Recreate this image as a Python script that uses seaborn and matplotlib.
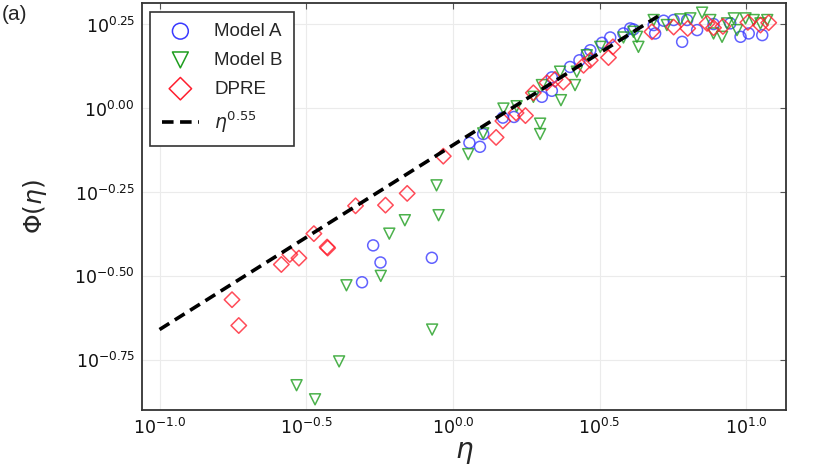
import numpy as np
import pandas as pd
import matplotlib
matplotlib.use("Agg")
import matplotlib.pyplot as plt
import matplotlib.ticker as mticker
import seaborn as sns

# values, as log10 exponents
a_logx = [-0.272, -0.247, -0.310, -0.072, 0.056, 0.092, 0.103, 0.170, 0.208, 0.303,
          0.337, 0.337, 0.399, 0.431, 0.456, 0.468, 0.508, 0.536, 0.581, 0.604,
          0.615, 0.684, 0.689, 0.718, 0.752, 0.781, 0.798, 0.832, 0.888, 0.945,
          0.980, 1.008, 1.054]
a_logy = [-0.409, -0.460, -0.519, -0.446, -0.103, -0.115, -0.077, -0.028, -0.026, 0.034,
          0.052, 0.092, 0.123, 0.143, 0.161, 0.173, 0.195, 0.211, 0.223, 0.238,
          0.235, 0.248, 0.223, 0.261, 0.263, 0.198, 0.263, 0.233, 0.251, 0.253,
          0.213, 0.223, 0.218]

b_logx = [-0.056, -0.049, -0.164, -0.217, -0.246, -0.363, -0.071, -0.388, -0.533, -0.470,
          0.052, 0.103, 0.172, 0.217, 0.297, 0.297, 0.274, 0.303, 0.365, 0.368,
          0.416, 0.422, 0.456, 0.502, 0.581, 0.615, 0.632, 0.627, 0.684, 0.729,
          0.775, 0.809, 0.849, 0.877, 0.888, 0.917, 0.934, 0.957, 0.968, 0.997,
          1.025, 1.048, 1.071]
b_logy = [-0.230, -0.319, -0.334, -0.374, -0.500, -0.528, -0.660, -0.755, -0.826, -0.868,
          -0.137, -0.075, -0.001, 0.006, -0.046, -0.077, 0.034, 0.069, 0.109, 0.024,
          0.069, 0.109, 0.158, 0.183, 0.211, 0.228, 0.183, 0.213, 0.263, 0.248,
          0.265, 0.268, 0.285, 0.263, 0.223, 0.213, 0.253, 0.268, 0.233, 0.268,
          0.263, 0.253, 0.263]

d_logx = [-0.753, -0.730, -0.585, -0.556, -0.525, -0.474, -0.429, -0.427, -0.332, -0.230,
          -0.156, -0.033, 0.147, 0.170, 0.215, 0.247, 0.274, 0.320, 0.348, 0.376,
          0.445, 0.468, 0.530, 0.545, 0.678, 0.752, 0.800, 0.866, 0.888, 0.920,
          1.005, 1.048, 1.076]
d_logy = [-0.571, -0.648, -0.466, -0.436, -0.447, -0.374, -0.414, -0.417, -0.291, -0.289,
          -0.254, -0.143, -0.087, -0.038, -0.014, -0.022, 0.046, 0.076, 0.086, 0.078,
          0.128, 0.143, 0.151, 0.183, 0.228, 0.242, 0.238, 0.253, 0.240, 0.244,
          0.256, 0.248, 0.255]

fit_eta = [0.1, 5.0]
fit_coef = 10 ** -0.11
fit_exp = 0.55

x_ticks = [-1.0, -0.5, 0.0, 0.5, 1.0]
y_ticks = [-0.75, -0.50, -0.25, 0.00, 0.25]

sns.set_theme(style="whitegrid")
plt.rcParams['font.family'] = ['Liberation Sans', 'DejaVu Sans']
plt.rcParams['mathtext.fontset'] = 'dejavusans'

fig = plt.figure(figsize=(8.3, 4.67), dpi=100)
ax = fig.add_axes([0.171, 0.122, 0.776, 0.871])

series = [
    ("Model A", a_logx, a_logy, "o", "#3a3aff"),
    ("Model B", b_logx, b_logy, "v", "#1f9e1f"),
    ("DPRE", d_logx, d_logy, "D", "#ff1f2f"),
]
for name, lx, ly, mk, col in series:
    df = pd.DataFrame({"eta": 10 ** np.array(lx), "phi": 10 ** np.array(ly)})
    sns.scatterplot(data=df, x="eta", y="phi", ax=ax, marker=mk, s=62,
                    facecolor="none", edgecolor=col, linewidth=1.1,
                    alpha=0.8, label=name)

fit_x = np.array(fit_eta)
ax.plot(fit_x, fit_coef * fit_x ** fit_exp, color="black", lw=2.6,
        ls=(0, (3.2, 1.8)), label=r"$\eta^{0.55}$")

ax.set_xscale("log")
ax.set_yscale("log")
ax.set_xlim(10 ** -1.06, 10 ** 1.135)
ax.set_ylim(10 ** -0.90, 10 ** 0.313)

ax.xaxis.set_major_locator(mticker.FixedLocator([10 ** t for t in x_ticks]))
ax.yaxis.set_major_locator(mticker.FixedLocator([10 ** t for t in y_ticks]))
ax.xaxis.set_minor_locator(mticker.NullLocator())
ax.yaxis.set_minor_locator(mticker.NullLocator())
ax.set_xticklabels([r"$10^{%.1f}$" % t if t != 0 else r"$10^{0.0}$" for t in x_ticks])
ax.set_yticklabels([r"$10^{%.2f}$" % t if t != 0 else r"$10^{0.00}$" for t in y_ticks])
ax.tick_params(axis="both", which="major", direction="in", length=4, width=0.8,
               labelsize=12.5, color="#555555", top=True, right=True, pad=5,
               labelcolor="#111111")

ax.grid(True, color="#ebebeb", linewidth=0.8)
for sp in ax.spines.values():
    sp.set_color("#333333")
    sp.set_linewidth(1.3)

ax.set_xlabel(r"$\eta$", fontsize=20, labelpad=2)
ax.set_ylabel(r"$\Phi(\eta)$", fontsize=18, labelpad=18)

leg = ax.legend(loc="upper left", fontsize=13.5, markerscale=1.45, frameon=True,
                fancybox=False, edgecolor="#333333", framealpha=1,
                borderaxespad=0.45, labelspacing=0.62, handlelength=2.0,
                handletextpad=0.8, borderpad=0.6)
leg.get_frame().set_linewidth(1.2)
for h in leg.legend_handles:
    h.set_alpha(1)

fig.text(0.002, 0.99, "(a)", fontsize=15, va="top", ha="left")

fig.savefig("out.png", dpi=100)
